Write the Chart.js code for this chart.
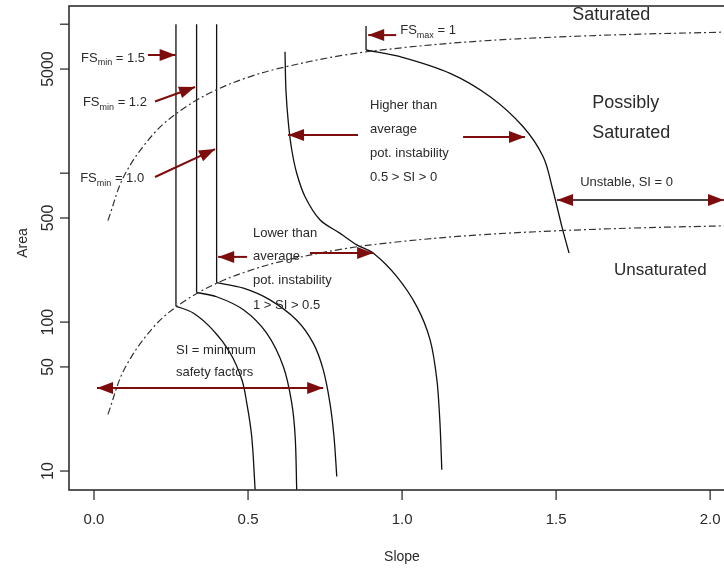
<!DOCTYPE html>
<html>
<head>
<meta charset="utf-8">
<title>Stability index - slope vs area</title>
<script src="https://cdn.jsdelivr.net/npm/chart.js@4.4.1/dist/chart.umd.min.js"></script>
<style>
  html, body { margin: 0; padding: 0; background: #fff; overflow: hidden; }
  canvas { display: block; }
</style>
</head>
<body>
<canvas id="siChart" width="724" height="569"></canvas>
<script>
// axis ticks
const xTicks = [0, 0.5, 1, 1.5, 2];
const xTickLabels = ['0.0', '0.5', '1.0', '1.5', '2.0'];
const yTicks = [10, 50, 100, 500, 1000, 5000, 10000];
const yTickLabels = ['10', '50', '100', '500', '', '5000', ''];

// saturation lines (slope, area)
const satSlope = [0.045, 0.1, 0.2, 0.3, 0.4, 0.5, 0.6, 0.8, 1.0, 1.25, 1.5, 1.75, 2.05];
const satUpperArea = [480, 980, 1900, 2800, 3650, 4400, 5050, 6150, 6950, 7700, 8200, 8550, 8850];
const satLowerArea = [24, 49, 96, 141, 183, 220, 253, 308, 348, 385, 410, 428, 443];

// FSmin = 1.5
const fs15Slope = [0.266, 0.322, 0.387, 0.442, 0.480, 0.496, 0.512, 0.523];
const fs15Area = [128, 115, 88, 62, 41, 28.5, 17, 7.5];
// FSmin = 1.2
const fs12Slope = [0.333, 0.398, 0.485, 0.561, 0.615, 0.642, 0.653, 0.658];
const fs12Area = [158, 148, 121, 84, 50, 28.5, 17, 7.5];
// FSmin = 1.0
const fs10Slope = [0.398, 0.485, 0.571, 0.658, 0.712, 0.744, 0.766, 0.779, 0.788];
const fs10Area = [184, 169, 141, 103, 72, 48, 28.5, 17, 9.2];
// SI = 0.5 boundary
const halfSlope = [0.620, 0.623, 0.631, 0.642, 0.658, 0.685, 0.734, 0.799, 0.853, 0.907, 0.983, 1.048, 1.091, 1.113, 1.123, 1.129];
const halfArea = [6530, 3610, 2160, 1430, 998, 695, 485, 394, 330, 290, 202, 127, 76, 41, 21, 10.2];
// FSmax = 1
const fsMaxSlope = [0.883, 0.994, 1.156, 1.286, 1.393, 1.458, 1.487, 1.519, 1.542];
const fsMaxArea = [6710, 6050, 4680, 3260, 2050, 1290, 807, 436, 291];

// tops of the vertical FS lines
const verticalTop = [10000, 10000, 10000, 9730];

// arrows (slope, area)
const arrowFrom = [[0.175, 6210], [0.198, 3030], [0.198, 942], [0.857, 1805], [1.198, 1750], [0.497, 274], [0.701, 291], [0.981, 8450]];
const arrowTo = [[0.265, 6210], [0.328, 3790], [0.393, 1450], [0.630, 1805], [1.399, 1750], [0.403, 274], [0.906, 291], [0.890, 8450]];
const twoWayFrom = [[1.503, 661], [0.0097, 36.1]];
const twoWayTo = [[2.045, 661], [0.744, 36.1]];

// text notes
const noteText = ['Higher than', 'average', 'pot. instability', '0.5 > SI > 0',
  'Lower than', 'average', 'pot. instability', '1 > SI > 0.5',
  'SI = minimum', 'safety factors', 'Unstable, SI = 0'];
const noteAt = [[0.896, 2865], [0.896, 1977], [0.896, 1365], [0.896, 942],
  [0.516, 396], [0.516, 274], [0.516, 189], [0.516, 130],
  [0.266, 65], [0.266, 45.6], [1.578, 860]];
const regionText = ['Saturated', 'Possibly', 'Saturated', 'Unsaturated'];
const regionAt = [[1.552, 11500], [1.617, 2960], [1.617, 1860], [1.688, 224]];
const fsLabelSub = ['min', 'min', 'min', 'max'];
const fsLabelValue = [' = 1.5', ' = 1.2', ' = 1.0', ' = 1'];
const fsLabelAt = [[-0.042, 5930], [-0.036, 3000], [-0.045, 927], [0.994, 9140]];

const FONT = '"Liberation Sans", Arial, sans-serif';
const ARROW_RED = '#7d0c0c';
const INK = '#2a2a2a';

function toPoints(xs, ys) {
  return xs.map((x, i) => ({ x: x, y: ys[i] }));
}

function curve(data, opts) {
  return Object.assign({
    data: data,
    showLine: true,
    borderColor: '#111',
    borderWidth: 1.3,
    pointRadius: 0,
    tension: 0.35,
    fill: false
  }, opts || {});
}

const arcs = [[fs15Slope, fs15Area], [fs12Slope, fs12Area], [fs10Slope, fs10Area], [fsMaxSlope, fsMaxArea]];
const verticals = arcs.map((arc, i) => curve([
  { x: arc[0][0], y: verticalTop[i] },
  { x: arc[0][0], y: arc[1][0] }
], { tension: 0 }));

const datasets = [
  curve(toPoints(satSlope, satUpperArea), { borderColor: '#333', borderWidth: 1.2, borderDash: [7, 3, 2, 3] }),
  curve(toPoints(satSlope, satLowerArea), { borderColor: '#333', borderWidth: 1.2, borderDash: [7, 3, 2, 3] }),
  curve(toPoints(fs15Slope, fs15Area)),
  curve(toPoints(fs12Slope, fs12Area)),
  curve(toPoints(fs10Slope, fs10Area)),
  curve(toPoints(halfSlope, halfArea), { tension: 0.3 }),
  curve(toPoints(fsMaxSlope, fsMaxArea))
].concat(verticals);

function arrowHead(ctx, x0, y0, x1, y1) {
  const ang = Math.atan2(y1 - y0, x1 - x0);
  const len = 16;
  const half = 6;
  ctx.beginPath();
  ctx.moveTo(x1, y1);
  ctx.lineTo(x1 - len * Math.cos(ang) + half * Math.sin(ang), y1 - len * Math.sin(ang) - half * Math.cos(ang));
  ctx.lineTo(x1 - len * Math.cos(ang) - half * Math.sin(ang), y1 - len * Math.sin(ang) + half * Math.cos(ang));
  ctx.closePath();
  ctx.fill();
}

const decorPlugin = {
  id: 'decor',
  afterDraw(chart) {
    const ctx = chart.ctx;
    const xs = chart.scales.x;
    const ys = chart.scales.y;
    const area = chart.chartArea;
    const px = (p) => [xs.getPixelForValue(p[0]), ys.getPixelForValue(p[1])];

    ctx.save();
    // frame (right side runs off the picture)
    ctx.strokeStyle = '#222';
    ctx.lineWidth = 1.5;
    ctx.beginPath();
    ctx.moveTo(area.right + 2, area.top);
    ctx.lineTo(area.left, area.top);
    ctx.lineTo(area.left, area.bottom);
    ctx.lineTo(area.right + 2, area.bottom);
    ctx.stroke();

    // ticks
    ctx.lineWidth = 1.2;
    ctx.fillStyle = INK;
    ctx.font = '15px ' + FONT;
    ctx.textAlign = 'center';
    ctx.textBaseline = 'middle';
    xTicks.forEach((v, i) => {
      const x = xs.getPixelForValue(v);
      ctx.beginPath();
      ctx.moveTo(x, area.bottom);
      ctx.lineTo(x, area.bottom + 10);
      ctx.stroke();
      ctx.fillText(xTickLabels[i], x, area.bottom + 30);
    });
    ctx.font = '16px ' + FONT;
    yTicks.forEach((v, i) => {
      const y = ys.getPixelForValue(v);
      ctx.beginPath();
      ctx.moveTo(area.left, y);
      ctx.lineTo(area.left - 9, y);
      ctx.stroke();
      if (yTickLabels[i]) {
        ctx.save();
        ctx.translate(area.left - 20, y);
        ctx.rotate(-Math.PI / 2);
        ctx.fillText(yTickLabels[i], 0, 0);
        ctx.restore();
      }
    });

    // axis titles
    ctx.font = '14px ' + FONT;
    ctx.fillText('Slope', 402, 557);
    ctx.save();
    ctx.translate(23, 243);
    ctx.rotate(-Math.PI / 2);
    ctx.fillText('Area', 0, 0);
    ctx.restore();

    // arrows
    ctx.strokeStyle = ARROW_RED;
    ctx.fillStyle = ARROW_RED;
    ctx.lineWidth = 2;
    arrowFrom.forEach((f, i) => {
      const a = px(f);
      const b = px(arrowTo[i]);
      ctx.beginPath();
      ctx.moveTo(a[0], a[1]);
      ctx.lineTo(b[0], b[1]);
      ctx.stroke();
      arrowHead(ctx, a[0], a[1], b[0], b[1]);
    });
    twoWayFrom.forEach((f, i) => {
      const a = px(f);
      const b = px(twoWayTo[i]);
      ctx.strokeStyle = i === 0 ? '#444' : ARROW_RED;
      ctx.beginPath();
      ctx.moveTo(a[0], a[1]);
      ctx.lineTo(b[0], b[1]);
      ctx.stroke();
      arrowHead(ctx, a[0], a[1], b[0], b[1]);
      arrowHead(ctx, b[0], b[1], a[0], a[1]);
    });

    // notes
    ctx.fillStyle = INK;
    ctx.textAlign = 'left';
    ctx.font = '13px ' + FONT;
    noteText.forEach((t, i) => {
      const p = px(noteAt[i]);
      ctx.fillText(t, p[0], p[1]);
    });
    ctx.font = '18px ' + FONT;
    regionText.forEach((t, i) => {
      const p = px(regionAt[i]);
      ctx.font = (i === 3 ? '17px ' : '18px ') + FONT;
      ctx.fillText(t, p[0], p[1]);
    });
    fsLabelAt.forEach((at, i) => {
      const p = px(at);
      let x = p[0];
      ctx.font = '13px ' + FONT;
      ctx.fillText('FS', x, p[1]);
      x += ctx.measureText('FS').width;
      ctx.font = '9px ' + FONT;
      ctx.fillText(fsLabelSub[i], x, p[1] + 5);
      x += ctx.measureText(fsLabelSub[i]).width;
      ctx.font = '13px ' + FONT;
      ctx.fillText(fsLabelValue[i], x, p[1]);
    });
    ctx.restore();
  }
};

new Chart(document.getElementById('siChart').getContext('2d'), {
  type: 'scatter',
  data: { datasets: datasets },
  options: {
    responsive: false,
    animation: false,
    layout: { padding: { left: 69, top: 6, right: 0, bottom: 79 } },
    plugins: { legend: { display: false }, tooltip: { enabled: false } },
    scales: {
      x: { type: 'linear', min: -0.0812, max: 2.045, display: false },
      y: { type: 'logarithmic', min: 7.46, max: 13250, display: false }
    }
  },
  plugins: [decorPlugin]
});
</script>
</body>
</html>
